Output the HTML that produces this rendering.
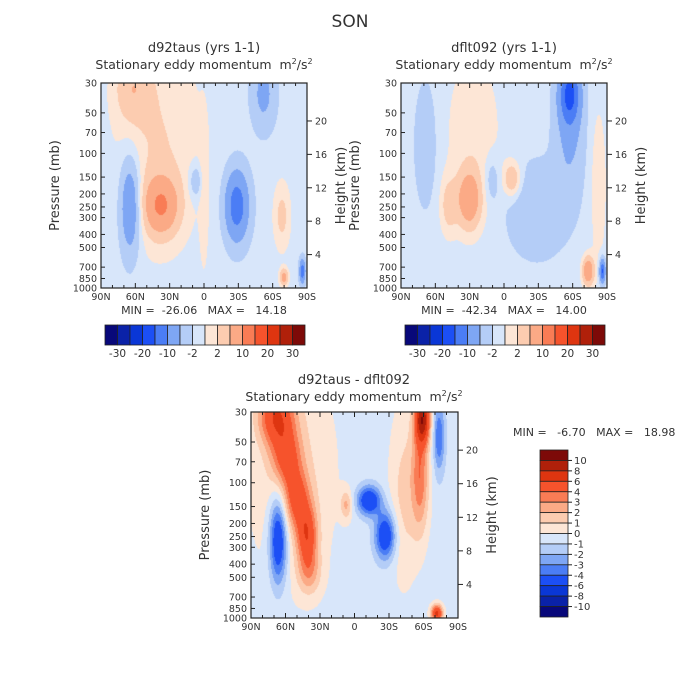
<!DOCTYPE html>
<html><head><meta charset="utf-8">
<style>
body{margin:0;background:#fff;}
#root{position:relative;width:700px;height:700px;overflow:hidden;font-family:"DejaVu Sans",sans-serif;color:#222;}
canvas{position:absolute;}
svg{position:absolute;left:0;top:0;}
text{white-space:pre;}
</style></head><body>
<div id="root">
<canvas id="c1" width="206" height="205" style="left:101px;top:83px"></canvas>
<canvas id="c2" width="206" height="205" style="left:401px;top:83px"></canvas>
<canvas id="c3" width="207" height="206" style="left:251px;top:412px"></canvas>
<svg id="ov" width="700" height="700"></svg>
</div>
<script>
const palette=["#08087a","#0a22a8","#0a37d6","#1c4ff5","#4b7df5","#7ea6f4","#b4cdf7","#d8e6fa","#fde6d6","#fcccb0","#fbaa86","#f97c55","#f6532c","#de3510","#b0200a","#7d0a08"];
const levelsA=[-30,-25,-20,-15,-10,-5,-2,0,2,5,10,15,20,25,30];
const levelsDiff=[-10,-8,-6,-4,-3,-2,-1,0,1,2,3,4,6,8,10];
const pressureTicks=[30,50,70,100,150,200,250,300,400,500,700,850,1000];
const heightTicks=[4,8,12,16,20];
const latTicks=["90N","60N","30N","0","30S","60S","90S"];
const barLabelsA=["-30","-20","-10","-2","2","10","20","30"];
const barLabelsDiff=["10","8","6","4","3","2","1","0","-1","-2","-3","-4","-6","-8","-10"];
// field features: [x(0=90N..1=90S), y(0=30mb..1=1000mb), amplitude, sx, sy]
const offset1=-1.2;
const blobs1=[[0.28,0.3,3.3,0.15,0.38],[0.15,0.02,4.5,0.06,0.12],[0.29,0.6,10,0.06,0.1],[0.14,0.6,-9,0.035,0.17],[0.66,0.6,-12,0.04,0.12],[0.46,0.48,-4,0.025,0.06],[0.79,0.05,-5,0.04,0.12],[0.88,0.65,4,0.03,0.12],[0.89,0.95,8,0.015,0.03],[0.98,0.92,-12,0.01,0.04],[0.5,0.55,2.5,0.015,0.25]];
const offset2=-1.2;
const blobs2=[[0.35,0.25,2.5,0.1,0.3],[0.33,0.57,9,0.04,0.1],[0.23,0.6,4,0.03,0.1],[0.54,0.47,6,0.03,0.06],[0.44,0.47,-3,0.025,0.08],[0.12,0.3,-2.5,0.04,0.22],[0.82,0.05,-14,0.035,0.1],[0.82,0.25,-4.5,0.05,0.2],[0.66,0.62,-3.5,0.1,0.15],[0.91,0.92,10,0.02,0.05],[0.98,0.92,-15,0.01,0.04],[0.96,0.5,2.5,0.03,0.3]];
const offset3=-0.5;
const blobs3=[[0.2,0.3,1.5,0.15,0.4],[0.12,0.02,5.5,0.06,0.1],[0.17,0.22,4,0.05,0.1],[0.22,0.42,4,0.045,0.1],[0.27,0.6,5,0.035,0.1],[0.28,0.78,2.5,0.04,0.08],[0.13,0.62,-6,0.03,0.15],[0.57,0.43,-5.5,0.04,0.05],[0.65,0.6,-5.5,0.035,0.08],[0.83,0.03,9,0.025,0.08],[0.82,0.3,4,0.03,0.2],[0.91,0.12,-3.5,0.02,0.12],[0.74,0.4,1.8,0.05,0.3],[0.46,0.45,2.5,0.02,0.05],[0.9,0.98,7,0.02,0.03]];

function hex(c){return [parseInt(c.substr(1,2),16),parseInt(c.substr(3,2),16),parseInt(c.substr(5,2),16)];}
const pal=palette.map(hex);
function draw(id,blobs,off,levels){
  const cv=document.getElementById(id),ctx=cv.getContext('2d'),W=cv.width,H=cv.height;
  const img=ctx.createImageData(W,H);
  for(let j=0;j<H;j++)for(let i=0;i<W;i++){
    const x=i/(W-1),y=j/(H-1);let v=off;
    for(const b of blobs){const dx=(x-b[0])/b[3],dy=(y-b[1])/b[4];v+=b[2]*Math.exp(-0.5*(dx*dx+dy*dy));}
    let k=0;while(k<levels.length&&levels[k]<v)k++;
    const c=pal[k],p=(j*W+i)*4;img.data[p]=c[0];img.data[p+1]=c[1];img.data[p+2]=c[2];img.data[p+3]=255;
  }
  ctx.putImageData(img,0,0);
}
draw('c1',blobs1,offset1,levelsA);
draw('c2',blobs2,offset2,levelsA);
draw('c3',blobs3,offset3,levelsDiff);

const NS="http://www.w3.org/2000/svg",ov=document.getElementById('ov');
function el(t,a,txt){const e=document.createElementNS(NS,t);for(const k in a)e.setAttribute(k,a[k]);if(txt!==undefined)e.textContent=txt;ov.appendChild(e);return e;}
function txt(x,y,s,size,anchor,name,rot){const e=el('text',{x:x,y:y,'font-size':size,'text-anchor':anchor||'middle',fill:'#333','font-family':'DejaVu Sans, sans-serif'},s);
 if(rot)e.setAttribute('transform','rotate(-90 '+x+' '+y+')');
 
 return e;}
function yOfP(p){return Math.log(p/30)/Math.log(1000/30);}
function panel(L,T,W,H,tag){
  const r=el('rect',{x:L,y:T,width:W,height:H,fill:'none',stroke:'#222','stroke-width':1.2});
  
  
  pressureTicks.forEach(p=>{const y=T+yOfP(p)*H;
    el('line',{x1:L,x2:L+4,y1:y,y2:y,stroke:'#222'});
    txt(L-4,y+3.5,String(p),9.5,'end',tag+'-pressure-tick');});
  heightTicks.forEach(z=>{const p=1000*Math.exp(-z/7),y=T+yOfP(p)*H;
    el('line',{x1:L+W,x2:L+W+5,y1:y,y2:y,stroke:'#222'});
    txt(L+W+8,y+3.5,String(z),9.5,'start',tag+'-height-tick');});
  latTicks.forEach((s,i)=>{const x=L+i*W/6;
    el('line',{x1:x,x2:x,y1:T+H,y2:T+H-5,stroke:'#222'});el('line',{x1:x,x2:x,y1:T,y2:T+5,stroke:'#222'});
    txt(x,T+H+12,s,9.5,'middle',tag+'-lat-tick');});
  for(let i=1;i<18;i++){if(i%3){const x=L+i*W/18;el('line',{x1:x,x2:x,y1:T+H,y2:T+H-3,stroke:'#222'});el('line',{x1:x,x2:x,y1:T,y2:T+3,stroke:'#222'});}}
  txt(L-42,T+H/2,'Pressure (mb)',13,'middle',tag+'-y-axis-title',true);
  txt(L+W+38,T+H/2,'Height (km)',13,'middle',tag+'-right-axis-title',true);
}
panel(101,83,206,205,'p1');panel(401,83,206,205,'p2');panel(251,412,207,206,'p3');
txt(350,27,'SON',17,'middle','figure-title');
function titles(cx,y,t){txt(cx,y,t,13,'middle','panel-title');
 const s=txt(cx,y+17,'',12.5,'middle','panel-subtitle');s.innerHTML='Stationary eddy momentum  m<tspan font-size="8" dy="-5">2</tspan><tspan dy="5">/s</tspan><tspan font-size="8" dy="-5">2</tspan>';}
titles(204,52,'d92taus (yrs 1-1)');titles(504,52,'dflt092 (yrs 1-1)');titles(354,384,'d92taus - dflt092');
txt(204,314,'MIN =  -26.06   MAX =   14.18',11,'middle','p1-min-max');
txt(504,314,'MIN =  -42.34   MAX =   14.00',11,'middle','p2-min-max');
txt(513,436,'MIN =   -6.70   MAX =   18.98',11,'start','p3-min-max');
function hbar(L,tag){const T=325,bw=12.5;
 palette.forEach((c,i)=>{const r=el('rect',{x:L+i*bw,y:T,width:bw,height:20,fill:c,stroke:'#222','stroke-width':0.8});
  
  });
 barLabelsA.forEach((s,i)=>txt(L+(1+2*i)*bw,T+32,s,10.5,'middle',tag+'-colorbar-label'));}
hbar(105,'p1');hbar(405,'p2');
(function(){const L=540,T=450,bh=167/16;
 palette.slice().reverse().forEach((c,i)=>{const r=el('rect',{x:L,y:T+i*bh,width:28,height:bh,fill:c,stroke:'#222','stroke-width':0.8});
  
  });
 barLabelsDiff.forEach((s,i)=>{const y=T+(i+1)*bh;el('line',{x1:L+28,x2:L+32,y1:y,y2:y,stroke:'#222'});txt(L+34,y+3.5,s,10,'start','p3-colorbar-label');});
})();
</script>
</body></html>
